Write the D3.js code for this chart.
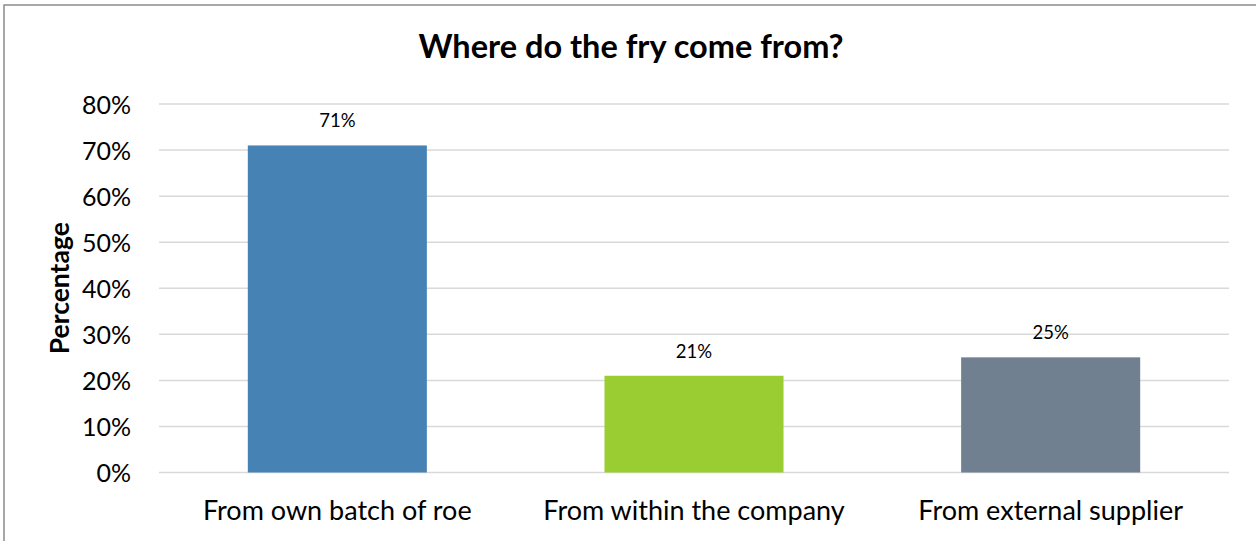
<!DOCTYPE html>
<html>
<head>
<meta charset="utf-8">
<script src="https://cdn.jsdelivr.net/npm/d3@7"></script>
<style>
  html, body { margin: 0; padding: 0; background: #fff; }
  svg { display: block; font-family: Lato, "Open Sans", sans-serif; }
</style>
</head>
<body>
<svg id="chart" width="1256" height="541"></svg>
<script>
// Survey answers: origin of fry
const categories = ["From own batch of roe", "From within the company", "From external supplier"];
const values = [0.71, 0.21, 0.25];
const barColors = ["#4682B4", "#9ACD32", "#708090"];
const yTicks = [0, 0.1, 0.2, 0.3, 0.4, 0.5, 0.6, 0.7, 0.8];
const titleText = "Where do the fry come from?";
const yAxisTitle = "Percentage";

const svg = d3.select("#chart");
const W = 1256, H = 541;
const plot = { left: 159, right: 1229, top: 104, bottom: 472.5 };

// outer frame
svg.append("rect")
  .attr("x", 4).attr("y", 5)
  .attr("width", W + 10).attr("height", H + 10)
  .attr("fill", "#fff")
  .attr("stroke", "#8c8c8c").attr("stroke-width", 1.5);

const x = d3.scaleBand()
  .domain(categories)
  .range([plot.left, plot.right])
  .paddingInner(0.498)
  .paddingOuter(0.249);

const y = d3.scaleLinear()
  .domain([0, 0.8])
  .range([plot.bottom, plot.top]);

// gridlines
svg.append("g")
  .selectAll("line")
  .data(yTicks)
  .join("line")
  .attr("x1", plot.left).attr("x2", plot.right)
  .attr("y1", d => y(d)).attr("y2", d => y(d))
  .attr("stroke", "#d9d9d9").attr("stroke-width", 1.5);

// y axis labels
const yAxis = d3.axisLeft(y)
  .tickValues(yTicks)
  .tickFormat(d3.format(".0%"))
  .tickSize(0)
  .tickPadding(0);
const yg = svg.append("g")
  .attr("transform", `translate(131,0)`)
  .call(yAxis);
yg.select(".domain").remove();
yg.selectAll("text")
  .attr("font-family", "Lato, sans-serif")
  .attr("font-size", 25)
  .attr("fill", "#000")
  .attr("dy", "0.36em");

// bars
svg.append("g")
  .selectAll("rect")
  .data(values)
  .join("rect")
  .attr("x", (d, i) => x(categories[i]))
  .attr("width", x.bandwidth())
  .attr("y", d => y(d))
  .attr("height", d => y(0) - y(d))
  .attr("fill", (d, i) => barColors[i]);

// value labels
svg.append("g")
  .selectAll("text")
  .data(values)
  .join("text")
  .attr("x", (d, i) => x(categories[i]) + x.bandwidth() / 2)
  .attr("y", d => y(d) - 18)
  .attr("text-anchor", "middle")
  .attr("font-size", 18.5)
  .attr("fill", "#000")
  .text(d => d3.format(".0%")(d));

// x axis labels
const xAxis = d3.axisBottom(x).tickSize(0).tickPadding(0);
const xg = svg.append("g")
  .attr("transform", `translate(0,${plot.bottom})`)
  .call(xAxis);
xg.select(".domain").remove();
xg.selectAll("text")
  .attr("font-family", "Lato, sans-serif")
  .attr("font-size", 27)
  .attr("fill", "#000")
  .attr("y", 47)
  .attr("dy", 0);

// title
svg.append("text")
  .attr("x", 631).attr("y", 58)
  .attr("text-anchor", "middle")
  .attr("font-size", 32.5)
  .attr("font-weight", "bold")
  .attr("fill", "#000")
  .text(titleText);

// y axis title
svg.append("text")
  .attr("transform", `translate(69,${(plot.top + plot.bottom) / 2}) rotate(-90)`)
  .attr("text-anchor", "middle")
  .attr("font-size", 26.5)
  .attr("font-weight", "bold")
  .attr("fill", "#000")
  .text(yAxisTitle);
</script>
</body>
</html>
